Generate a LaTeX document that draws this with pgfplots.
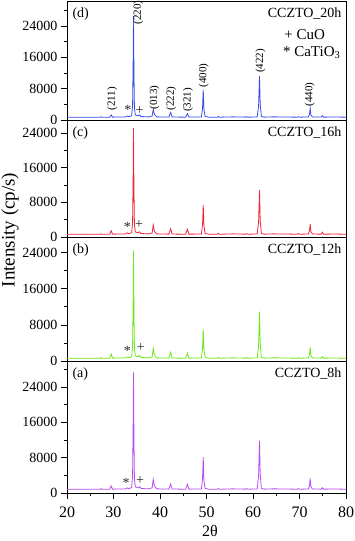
\documentclass[border=0pt]{standalone}
\usepackage{fontspec}
\setmainfont{Liberation Serif}
\usepackage{pgfplots}
\pgfplotsset{compat=1.18}
\definecolor{cd}{RGB}{55,75,235}
\definecolor{cc}{RGB}{240,35,55}
\definecolor{cb}{RGB}{110,230,25}
\definecolor{ca}{RGB}{185,75,240}

\pgfplotsset{xrd/.style={
    scale only axis, width=279pt,
    xmin=20, xmax=80, ymin=0,
    axis line style={line width=0.9pt},
    ytick={0,8000,16000,24000}, minor ytick={4000,12000,20000,28000},
    ytick pos=left, xtick pos=bottom, tick align=outside,
    major tick length=6pt, minor tick length=3.5pt,
    every tick/.style={black, line width=0.8pt},
    yticklabel style={font=\fontsize{14}{16}\selectfont},
    /pgf/number format/assume math mode=true,
    /pgf/number format/1000 sep={},
    scaled y ticks=false,
    xtick=\empty,
    clip=true,
  }}
\tikzset{
  lbl/.style={font=\fontsize{14}{16}\selectfont},
  hkl/.style={font=\fontsize{11}{13}\selectfont, rotate=90, anchor=west, inner sep=0.5pt},
  mk/.style={font=\fontsize{14}{16}\selectfont, text=black!85, inner sep=0pt},
}

\begin{document}
\begin{tikzpicture}
\useasboundingbox (0,0) rectangle (354pt,541pt);

% (a) 8h
\begin{axis}[xrd, at={(67pt,48pt)}, anchor=south west, height=132pt, ymax=29900,
    xtick={20,30,...,80}, minor xtick={25,35,...,75},
    xticklabel style={font=\fontsize{16}{18}\selectfont, yshift=-4pt}]
\addplot[ca, line width=0.8pt] coordinates {
(20,840)(22,860)(24,830)(26,850)(27.1,840)(27.3,980)(27.5,840)(29.2,860)(29.5,1590)(29.8,870)
(31,900)(32.5,920)(32.9,1150)(33.3,980)(33.9,1250)(34.1,3800)(34.22,14500)(34.3,27350)(34.4,12200)
(34.5,3100)(34.7,1400)(35.3,1150)(35.6,1450)(35.9,1050)(37.5,920)(38.3,1150)(38.55,3100)(38.75,1800)
(38.95,1350)(39.3,940)(41.9,880)(42.3,2040)(42.6,900)(45.5,860)(45.9,1970)(46.2,880)(48.9,900)
(49.15,3200)(49.3,8100)(49.45,2700)(49.7,1050)(50.5,860)(52.3,860)(52.5,1050)(52.8,850)(55.6,940)
(58.4,870)(58.6,1000)(58.9,860)(60.9,920)(61.2,3800)(61.4,11850)(61.55,4200)(61.8,1050)(62.4,870)
(64.3,940)(66,920)(69.5,860)(69.7,1000)(70,860)(71.9,910)(72.15,1600)(72.3,3300)(72.45,1400)
(72.8,900)(74.7,880)(74.9,1200)(75.2,870)(77.5,900)(80,860)};
\node[lbl, anchor=north west] at ([xshift=2pt,yshift=-3pt]rel axis cs:0,1) {(a)};
\node[lbl, anchor=north east] at ([xshift=-1pt,yshift=-3pt]rel axis cs:1,1) {CCZTO\_8h};
\node[mk] at (axis cs:32.7,2300) {*};
\node[mk] at (axis cs:35.7,2900) {+};
\end{axis}

% (b) 12h
\begin{axis}[xrd, at={(67pt,180pt)}, anchor=south west, height=124pt, ymax=27500]
\addplot[cb, line width=0.8pt] coordinates {
(20,600)(22,620)(24,590)(26,610)(27.1,600)(27.3,740)(27.5,600)(29.2,620)(29.5,1550)(29.8,630)
(31,660)(32.5,680)(32.9,900)(33.3,740)(33.9,980)(34.1,3200)(34.22,12600)(34.3,24500)(34.4,10800)
(34.5,2700)(34.7,1150)(35.3,920)(35.6,1250)(35.9,800)(37.5,680)(38.3,900)(38.55,2820)(38.75,1550)
(38.95,1100)(39.3,700)(41.9,640)(42.3,1930)(42.6,660)(45.5,620)(45.9,1700)(46.2,640)(48.9,660)
(49.15,2800)(49.3,7100)(49.45,2400)(49.7,800)(50.5,620)(52.3,620)(52.5,830)(52.8,610)(55.6,700)
(58.4,630)(58.6,760)(58.9,620)(60.9,680)(61.2,3400)(61.4,10950)(61.55,3900)(61.8,800)(62.4,630)
(64.3,700)(66,680)(69.5,620)(69.7,760)(70,620)(71.9,670)(72.15,1450)(72.3,3040)(72.45,1250)
(72.8,660)(74.7,640)(74.9,1000)(75.2,630)(77.5,660)(80,620)};
\node[lbl, anchor=north west] at ([xshift=2pt,yshift=-3pt]rel axis cs:0,1) {(b)};
\node[lbl, anchor=north east] at ([xshift=-1pt,yshift=-3pt]rel axis cs:1,1) {CCZTO\_12h};
\node[mk] at (axis cs:33.0,2150) {*};
\node[mk] at (axis cs:35.9,2950) {+};
\end{axis}

% (c) 16h
\begin{axis}[xrd, at={(67pt,304pt)}, anchor=south west, height=117pt, ymax=27000]
\addplot[cc, line width=0.8pt] coordinates {
(20,620)(22,640)(24,610)(26,630)(27.1,620)(27.3,750)(27.5,620)(29.2,640)(29.5,1450)(29.8,650)
(31,680)(32.5,700)(32.9,950)(33.3,760)(33.9,1000)(34.1,3300)(34.22,13000)(34.3,25100)(34.4,11000)
(34.5,2800)(34.7,1200)(35.3,950)(35.6,1200)(35.9,820)(37.5,700)(38.3,920)(38.55,2770)(38.75,1550)
(38.95,1100)(39.3,720)(41.9,660)(42.3,1900)(42.6,680)(45.5,640)(45.9,1800)(46.2,660)(48.9,680)
(49.15,2900)(49.3,7400)(49.45,2500)(49.7,820)(50.5,640)(52.3,640)(52.5,850)(52.8,630)(55.6,720)
(58.4,650)(58.6,780)(58.9,640)(60.9,700)(61.2,3400)(61.4,10800)(61.55,3800)(61.8,820)(62.4,650)
(64.3,720)(66,700)(69.5,640)(69.7,780)(70,640)(71.9,690)(72.15,1450)(72.3,3000)(72.45,1250)
(72.8,680)(74.7,660)(74.9,1100)(75.2,650)(77.5,680)(80,640)};
\node[lbl, anchor=north west] at ([xshift=2pt,yshift=-3pt]rel axis cs:0,1) {(c)};
\node[lbl, anchor=north east] at ([xshift=-1pt,yshift=-3pt]rel axis cs:1,1) {CCZTO\_16h};
\node[mk] at (axis cs:33.0,2300) {*};
\node[mk] at (axis cs:35.5,2900) {+};
\end{axis}

% (d) 20h
\begin{axis}[xrd, at={(67pt,421pt)}, anchor=south west, height=119pt, ymax=30400]
\addplot[cd, line width=0.8pt] coordinates {
(20,700)(22,720)(24,690)(26,710)(27.1,700)(27.3,820)(27.5,700)(29.2,720)(29.5,1300)(29.8,730)
(31,760)(32.5,780)(32.9,1000)(33.3,850)(33.9,1100)(34.1,3500)(34.22,14000)(34.3,26600)(34.4,12000)
(34.5,3000)(34.7,1300)(35.3,1050)(35.6,1300)(35.9,900)(37.5,780)(38.3,1000)(38.55,2700)(38.75,1600)
(38.95,1200)(39.3,800)(41.9,740)(42.3,1900)(42.6,760)(45.5,720)(45.9,1600)(46.2,740)(48.9,760)
(49.15,3000)(49.3,7700)(49.45,2600)(49.7,900)(50.5,720)(52.3,720)(52.5,900)(52.8,710)(55.6,800)
(58.4,730)(58.6,850)(58.9,720)(60.9,780)(61.2,3500)(61.4,11250)(61.55,4000)(61.8,900)(62.4,730)
(64.3,800)(66,780)(69.5,720)(69.7,850)(70,720)(71.9,770)(72.15,1500)(72.3,3000)(72.45,1300)
(72.8,760)(74.7,740)(74.9,1100)(75.2,730)(77.5,760)(80,720)};
\node[lbl, anchor=north west] at ([xshift=2pt,yshift=-3pt]rel axis cs:0,1) {(d)};
\node[lbl, anchor=north east] at ([xshift=-1pt,yshift=-3pt]rel axis cs:1,1) {CCZTO\_20h};
\node[font=\fontsize{15}{17}\selectfont, anchor=west] at (axis cs:66.0,21700) {+ CuO};
\node[font=\fontsize{15}{17}\selectfont, anchor=west] at (axis cs:65.7,17200) {* CaTiO\textsubscript{3}};
\node[mk] at (axis cs:33.1,2650) {*};
\node[mk] at (axis cs:35.6,2400) {+};
\node[hkl] at (axis cs:29.7,2300) {(211)};
\node[hkl] at (axis cs:35.3,24300) {(220)};
\node[hkl] at (axis cs:38.8,2550) {(013)};
\node[hkl] at (axis cs:42.4,2300) {(222)};
\node[hkl] at (axis cs:46.0,1870) {(321)};
\node[hkl] at (axis cs:49.4,8100) {(400)};
\node[hkl] at (axis cs:61.6,11830) {(422)};
\node[hkl] at (axis cs:72.2,3320) {(440)};
\end{axis}

\node[rotate=90, font=\fontsize{19}{21}\selectfont] at (10pt,311pt) {Intensity (cp/s)};
\node[font=\fontsize{16}{18}\selectfont] at (210pt,10pt) {2θ};
\end{tikzpicture}
\end{document}
